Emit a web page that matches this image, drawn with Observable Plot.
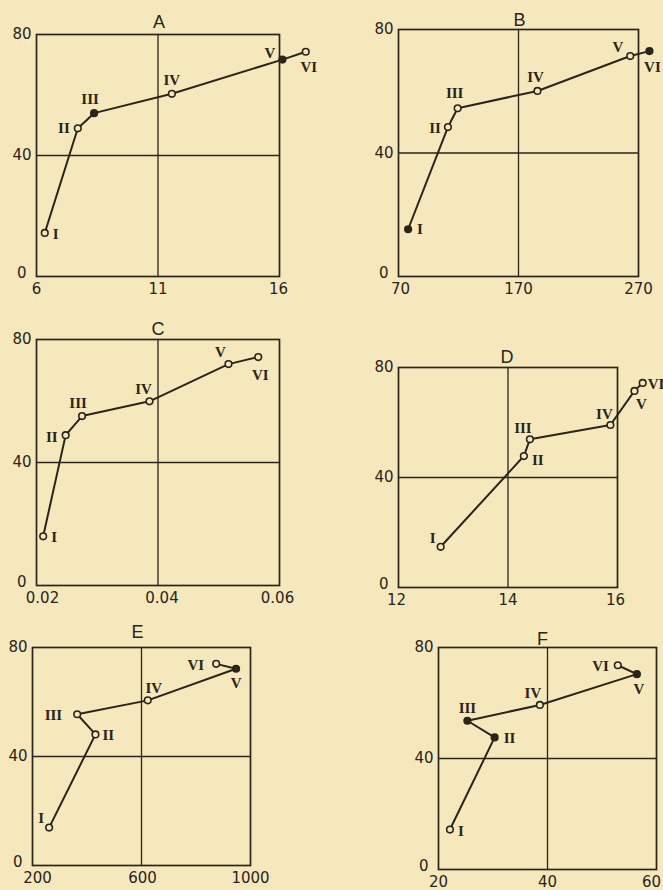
<!DOCTYPE html>
<html>
<head>
<meta charset="utf-8">
<script src="https://cdn.jsdelivr.net/npm/d3@7"></script>
<script src="https://cdn.jsdelivr.net/npm/@observablehq/plot@0.6"></script>
<style>
  html, body { margin: 0; padding: 0; background: #f6e8bd; }
  #root { position: relative; width: 663px; height: 890px; background: #f6e8bd; overflow: hidden; }
  .panel { position: absolute; }
  .panel svg { max-width: none !important; }
</style>
</head>
<body>
<div id="root"></div>
<script>
// ---------- DATA ----------
const stages = ["I", "II", "III", "IV", "V", "VI"];
const yTicks = [0, 40, 80];

const xA = [6.34, 7.70, 8.37, 11.57, 16.12, 17.08];
const yA = [14.4, 49.0, 54.0, 60.4, 71.7, 74.3];
const xTicksA = [6, 11, 16];

const xB = [78, 111.2, 119.3, 185.8, 263.1, 279.1];
const yB = [15.3, 48.4, 54.5, 60.1, 71.4, 73.0];
const xTicksB = [70, 170, 270];

const xC = [0.0211, 0.0248, 0.0275, 0.0386, 0.0516, 0.0565];
const yC = [16.0, 48.9, 55.1, 59.9, 72.0, 74.3];
const xTicksC = [0.02, 0.04, 0.06];

const xD = [12.77, 14.29, 14.40, 15.87, 16.31, 16.46];
const yD = [14.8, 47.8, 53.9, 59.1, 71.5, 74.4];
const xTicksD = [12, 14, 16];

const xE = [261, 431, 364, 623, 947, 874];
const yE = [13.9, 48.1, 55.5, 60.6, 72.2, 74.0];
const xTicksE = [200, 600, 1000];

const xF = [22.1, 30.3, 25.3, 38.6, 56.4, 52.9];
const yF = [14.4, 47.6, 53.6, 59.3, 70.4, 73.6];
const xTicksF = [20, 40, 60];

const filledA = ["III", "V"];
const filledB = ["I", "VI"];
const filledC = [];
const filledD = [];
const filledE = ["V"];
const filledF = ["II", "III", "V"];

// ---------- LAYOUT / STYLE ----------
const ink = "#2a2419";
const bg = "#f6e8bd";
const tickFont = "DejaVu Sans, sans-serif";
const titleFont = "Liberation Sans, Arial, sans-serif";
const romanFont = "Liberation Serif, DejaVu Serif, serif";

// frame: [left, top, width, height] in page px; title offset [dx, dy]
// label offsets per stage: [dx, dy, anchor]; tdx: x-tick label nudges
const panels = [
  { title: "A", xs: xA, ys: yA, ticks: xTicksA, filled: filledA, fmt: d => String(d),
    frame: [36, 34, 243, 242], tOff: [1, -19], tdx: [0, 0, -1],
    lab: [[8,1,"start"],[-8,0,"end"],[-4,-14,"middle"],[0,-14,"middle"],[-7,-6,"end"],[3,15,"middle"]] },
  { title: "B", xs: xB, ys: yB, ticks: xTicksB, filled: filledB, fmt: d => String(d),
    frame: [398, 29, 240, 247], tOff: [1, -16], tdx: [2, 0, 0],
    lab: [[9,0,"start"],[-7,1,"end"],[-3,-15,"middle"],[-2,-14,"middle"],[-7,-9,"end"],[3,16,"middle"]] },
  { title: "C", xs: xC, ys: yC, ticks: xTicksC, filled: filledC, fmt: d => d.toFixed(2),
    frame: [36, 339, 243, 246], tOff: [0, -17], tdx: [6, 4, -2],
    lab: [[8,1,"start"],[-8,2,"end"],[-4,-13,"middle"],[-6,-12,"middle"],[-8,-12,"middle"],[2,18,"middle"]] },
  { title: "D", xs: xD, ys: yD, ticks: xTicksD, filled: filledD, fmt: d => String(d),
    frame: [398, 367, 219, 220], tOff: [-1, -17], tdx: [-2, 0, -2],
    lab: [[-5,-9,"end"],[8,4,"start"],[-7,-11,"middle"],[-6,-11,"middle"],[7,13,"middle"],[5,1,"start"]] },
  { title: "E", xs: xE, ys: yE, ticks: xTicksE, filled: filledE, fmt: d => String(d),
    frame: [32, 647, 218, 218], tOff: [-4, -22], tdx: [5, 1, 0],
    lab: [[-5,-9,"end"],[7,1,"start"],[-15,1,"end"],[6,-12,"middle"],[0,14,"middle"],[-12,1,"end"]] },
  { title: "F", xs: xF, ys: yF, ticks: xTicksF, filled: filledF, fmt: d => String(d),
    frame: [438, 647, 218, 222], tOff: [-5, -15], tdx: [0, 0, -5],
    lab: [[8,2,"start"],[9,1,"start"],[0,-13,"middle"],[-7,-12,"middle"],[2,15,"middle"],[-9,1,"end"]] }
];

const ml = 50, mt = 34, mr = 36, mb = 26;
const root = document.getElementById("root");

for (const p of panels) {
  const [fl, ft, fw, fh] = p.frame;
  const data = stages.map((s, i) => ({ s, x: p.xs[i], y: p.ys[i], filled: p.filled.includes(s) }));
  const labelMarks = data.map((d, i) => Plot.text([d], {
    x: "x", y: "y", text: "s",
    dx: p.lab[i][0], dy: p.lab[i][1], textAnchor: p.lab[i][2],
    fontFamily: romanFont, fontSize: 15, fontWeight: "bold", fill: ink
  }));
  const tickMarks = p.ticks.map((t, i) => Plot.text([t], {
    x: d => d, y: 0, dy: 13, dx: p.tdx[i], text: p.fmt,
    fontFamily: tickFont, fontSize: 15, fill: ink, letterSpacing: 0.5
  }));
  const W = fw + ml + mr, H = fh + mt + mb;
  const chart = Plot.plot({
    width: W,
    height: H,
    marginLeft: ml, marginTop: mt, marginRight: mr, marginBottom: mb,
    x: { domain: [p.ticks[0], p.ticks[2]], axis: null },
    y: { domain: [0, 80], axis: null },
    style: { background: "transparent", overflow: "visible", maxWidth: "none" },
    marks: [
      Plot.ruleX([p.ticks[1]], { stroke: ink, strokeWidth: 1.3 }),
      Plot.ruleY([40], { stroke: ink, strokeWidth: 1.3 }),
      Plot.frame({ stroke: ink, strokeWidth: 1.7 }),
      Plot.line(data, { x: "x", y: "y", stroke: ink, strokeWidth: 2 }),
      Plot.dot(data, { x: "x", y: "y", r: 3.3, stroke: ink, strokeWidth: 1.6,
        fill: d => d.filled ? ink : bg }),
      ...labelMarks,
      ...tickMarks,
      // y tick labels
      Plot.text(yTicks.filter(v => v > 0), { x: p.ticks[0], y: d => d, dx: -5, textAnchor: "end",
        text: d => String(d), fontFamily: tickFont, fontSize: 15, fill: ink, letterSpacing: 0.5 }),
      Plot.text([0], { x: p.ticks[0], y: d => d, dx: -10, dy: -3, textAnchor: "end",
        text: d => String(d), fontFamily: tickFont, fontSize: 15, fill: ink }),
      // panel title
      Plot.text([p.title], { frameAnchor: "top", dx: p.tOff[0], dy: p.tOff[1], text: d => d,
        fontFamily: titleFont, fontSize: 18, fill: ink })
    ]
  });
  const wrap = document.createElement("div");
  wrap.className = "panel";
  wrap.style.left = (fl - ml) + "px";
  wrap.style.top = (ft - mt) + "px";
  wrap.style.width = W + "px";
  wrap.style.height = H + "px";
  wrap.appendChild(chart);
  root.appendChild(wrap);
}
</script>
</body>
</html>
